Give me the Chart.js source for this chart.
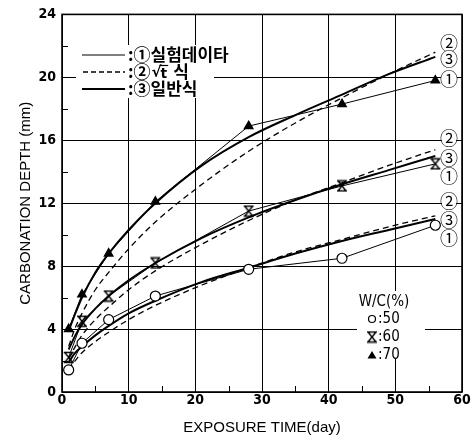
<!DOCTYPE html>
<html>
<head>
<meta charset="utf-8">
<script src="https://cdn.jsdelivr.net/npm/chart.js@4.4.1/dist/chart.umd.min.js"></script>
<style>
  html, body { margin: 0; padding: 0; background: #fff; }
</style>
</head>
<body>
<canvas id="chart" width="473" height="446"></canvas>
<script>
// measured points (days)
const days = [1, 3, 7, 14, 28, 42, 56]
const exp50 = [1.4, 3.1, 4.6, 6.1, 7.8, 8.5, 10.6]
const exp60 = [2.2, 4.5, 6.1, 8.2, 11.5, 13.1, 14.5]
const exp70 = [4.0, 6.2, 8.8, 12.1, 16.9, 18.3, 19.8]

// curves
const curveDays = [1, 2, 3, 5, 7, 10, 14, 21, 28, 35, 42, 49, 56]
const sqrt50 = [1.4, 2.0, 2.5, 3.2, 3.8, 4.6, 5.5, 6.8, 7.9, 8.9, 9.7, 10.5, 11.2]
const sqrt60 = [2.1, 2.9, 3.6, 4.6, 5.4, 6.5, 7.7, 9.4, 10.9, 12.2, 13.3, 14.4, 15.4]
const sqrt70 = [2.9, 4.1, 5.0, 6.5, 7.6, 9.1, 10.8, 13.2, 15.3, 17.1, 18.7, 20.2, 21.6]
const gen50 = [1.9, 2.5, 2.9, 3.6, 4.2, 5.0, 5.8, 7.0, 7.9, 8.8, 9.6, 10.3, 11.0]
const gen60 = [2.7, 3.6, 4.3, 5.3, 6.1, 7.1, 8.2, 9.8, 11.1, 12.2, 13.2, 14.1, 15.0]
const gen70 = [3.9, 5.0, 6.0, 7.6, 8.8, 10.3, 12.0, 14.4, 16.2, 17.6, 18.9, 20.2, 21.3]

const xMinorTicks = [5, 15, 25, 35, 45, 55]
const yMinorTicks = [2, 6, 10, 14, 18, 22]
const legendLabels = [':①실험데이타', ':②', ':③일반식']
const wcTitle = 'W/C(%)'
const wcLabels = [':50', ':60', ':70']

const tickFont = { family: '"Liberation Sans Narrow", "DejaVu Sans Condensed", sans-serif', size: 14, weight: 'bold' }
const titleFont = { family: '"Liberation Sans", sans-serif', size: 15 }
const korFont = 'bold 17px "Noto Sans CJK KR", sans-serif'

const pts = (xs, ys) => xs.map((x, i) => ({ x, y: ys[i] }))

// hourglass marker
function makeHourglass() {
  const c = document.createElement('canvas')
  c.width = 12
  c.height = 13
  const g = c.getContext('2d')
  g.strokeStyle = '#000'
  g.lineWidth = 1.4
  g.beginPath()
  g.moveTo(1, 1.5); g.lineTo(11, 1.5)
  g.moveTo(1, 11.5); g.lineTo(11, 11.5)
  g.moveTo(2, 1.5); g.lineTo(10, 11.5)
  g.moveTo(10, 1.5); g.lineTo(2, 11.5)
  g.stroke()
  return c
}
const hourglass = makeHourglass()

function drawHourglass(ctx, x, y) {
  ctx.drawImage(hourglass, x - 6, y - 6.5)
}

const expStyle = {
  borderColor: '#000',
  borderWidth: 1,
  pointBorderColor: '#000',
  pointBorderWidth: 1.2,
  tension: 0
}
const sqrtStyle = {
  borderColor: '#000',
  borderWidth: 1.3,
  borderDash: [6, 4],
  pointRadius: 0,
  cubicInterpolationMode: 'monotone'
}
const genStyle = {
  borderColor: '#000',
  borderWidth: 2,
  pointRadius: 0,
  cubicInterpolationMode: 'monotone'
}

const decor = {
  id: 'decor',
  beforeDatasetsDraw(chart) {
    const { ctx } = chart
    ctx.save()
    ctx.fillStyle = '#fff'
    // top-left legend
    ctx.fillRect(76, 45, 166, 18)
    ctx.fillRect(76, 63, 138, 17)
    ctx.fillRect(76, 80, 130, 18)
    // W/C legend
    ctx.fillRect(357, 291, 68, 68)
    ctx.restore()
  },
  afterDraw(chart) {
    const { ctx, chartArea: a, scales } = chart
    ctx.save()
    ctx.strokeStyle = '#000'
    ctx.fillStyle = '#000'

    // minor ticks pointing inwards
    ctx.lineWidth = 1
    ctx.beginPath()
    yMinorTicks.forEach((v) => {
      const y = Math.round(scales.y.getPixelForValue(v)) + 0.5
      ctx.moveTo(a.left, y)
      ctx.lineTo(a.left + 6, y)
    })
    xMinorTicks.forEach((v) => {
      const x = Math.round(scales.x.getPixelForValue(v)) + 0.5
      ctx.moveTo(x, a.bottom)
      ctx.lineTo(x, a.bottom - 6)
    })
    ctx.stroke()

    // frame
    ctx.lineWidth = 1.6
    ctx.strokeRect(a.left, a.top, a.right - a.left, a.bottom - a.top)

    // legend: line samples
    ctx.lineWidth = 1
    ctx.beginPath(); ctx.moveTo(82, 55); ctx.lineTo(125, 55); ctx.stroke()
    ctx.lineWidth = 1.3
    ctx.setLineDash([5, 3])
    ctx.beginPath(); ctx.moveTo(83, 72); ctx.lineTo(125, 72); ctx.stroke()
    ctx.setLineDash([])
    ctx.lineWidth = 2
    ctx.beginPath(); ctx.moveTo(82, 89); ctx.lineTo(125, 89); ctx.stroke()

    ctx.font = korFont
    ctx.textBaseline = 'middle'
    ctx.textAlign = 'left'
    legendLabels.forEach((t, i) => ctx.fillText(t, 128, 55 + i * 17))

    // "√t 식" after ":②"
    let x2 = 128 + ctx.measureText(legendLabels[1]).width + 1
    ctx.font = 'bold 15px "DejaVu Sans", sans-serif'
    ctx.fillText('√', x2, 73)
    x2 += ctx.measureText('√').width - 1
    ctx.font = 'bold 14px "DejaVu Sans", sans-serif'
    ctx.fillText('t', x2, 74)
    ctx.lineWidth = 1.2
    ctx.beginPath(); ctx.moveTo(x2 - 1, 65.5); ctx.lineTo(x2 + ctx.measureText('t').width + 1, 65.5); ctx.stroke()
    x2 += ctx.measureText('t').width + 6
    ctx.font = korFont
    ctx.fillText('식', x2, 72)

    // series labels on the right
    const rightLabels = [
      ['②', 42], ['③', 58], ['①', 78],
      ['②', 137], ['③', 157], ['①', 175],
      ['②', 200], ['③', 219], ['①', 237]
    ]
    ctx.font = '18px "Noto Sans CJK KR", sans-serif'
    ctx.textAlign = 'center'
    rightLabels.forEach(([t, y]) => {
      ctx.fillStyle = '#fff'
      ctx.beginPath(); ctx.arc(449, y, 8, 0, Math.PI * 2); ctx.fill()
      ctx.fillStyle = '#000'
      ctx.fillText(t, 449, y + 1)
    })

    // W/C legend
    ctx.font = '15px "Liberation Sans Narrow", "DejaVu Sans Condensed", sans-serif'
    ctx.textAlign = 'center'
    ctx.fillText(wcTitle, 384, 302)
    ctx.textAlign = 'left'
    const rows = [319, 337, 355]
    wcLabels.forEach((t, i) => ctx.fillText(t, 378, rows[i]))
    ctx.lineWidth = 1.2
    ctx.beginPath(); ctx.arc(372, rows[0], 3.5, 0, Math.PI * 2); ctx.stroke()
    drawHourglass(ctx, 372, rows[1])
    ctx.beginPath()
    ctx.moveTo(372, rows[2] - 4); ctx.lineTo(376.5, rows[2] + 3.5); ctx.lineTo(367.5, rows[2] + 3.5)
    ctx.closePath(); ctx.fill()
    ctx.restore()
  }
}

new Chart(document.getElementById('chart'), {
  type: 'line',
  data: {
    datasets: [
      { ...expStyle, data: pts(days, exp50), pointStyle: 'circle', pointRadius: 5, pointBackgroundColor: '#fff' },
      { ...expStyle, data: pts(days, exp60), pointStyle: hourglass, pointRadius: 6 },
      { ...expStyle, data: pts(days, exp70), pointStyle: 'triangle', pointRadius: 5, pointBackgroundColor: '#000' },
      { ...sqrtStyle, data: pts(curveDays, sqrt50) },
      { ...sqrtStyle, data: pts(curveDays, sqrt60) },
      { ...sqrtStyle, data: pts(curveDays, sqrt70) },
      { ...genStyle, data: pts(curveDays, gen50) },
      { ...genStyle, data: pts(curveDays, gen60) },
      { ...genStyle, data: pts(curveDays, gen70) }
    ]
  },
  options: {
    responsive: false,
    animation: false,
    devicePixelRatio: 1,
    layout: { padding: { left: 0, right: 11, top: 12, bottom: 0 } },
    plugins: {
      legend: { display: false },
      tooltip: { enabled: false }
    },
    scales: {
      x: {
        type: 'linear',
        min: 0,
        max: 60,
        afterFit: (s) => { s.height = 54 },
        ticks: { stepSize: 10, color: '#000', font: tickFont, padding: 0, maxRotation: 0 },
        grid: { color: '#000', lineWidth: 1, drawTicks: false },
        border: { display: false },
        title: { display: true, text: 'EXPOSURE TIME(day)', color: '#000', font: titleFont, padding: { top: 0, bottom: 9 } }
      },
      y: {
        min: 0,
        max: 24,
        afterFit: (s) => { s.width = 62 },
        ticks: { stepSize: 4, color: '#000', font: tickFont, padding: 6 },
        grid: { color: '#000', lineWidth: 1, drawTicks: false },
        border: { display: false },
        title: { display: true, text: 'CARBONATION DEPTH (mm)', color: '#000', font: titleFont, padding: { top: 17, bottom: 0 } }
      }
    }
  },
  plugins: [decor]
})
</script>
</body>
</html>
